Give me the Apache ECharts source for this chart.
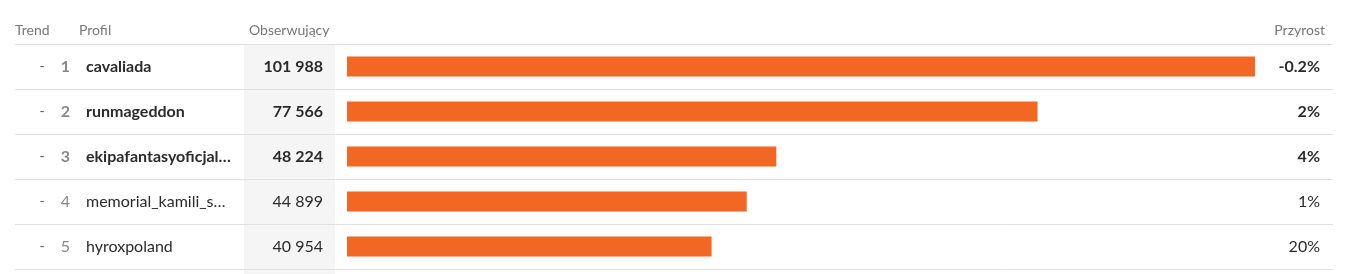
<!DOCTYPE html>
<html><head><meta charset="utf-8">
<script src="https://cdn.jsdelivr.net/npm/echarts@6/dist/echarts.min.js"></script>
<style>html,body{margin:0;padding:0;background:#fff}#c{width:1350px;height:274px}</style>
</head><body><div id="c"></div>
<script>
const trends = ['-', '-', '-', '-', '-'];
const ranks = ['1', '2', '3', '4', '5'];
const profiles = ['cavaliada', 'runmageddon', 'ekipafantasyoficjal…', 'memorial_kamili_s…', 'hyroxpoland'];
const followers = [101988, 77566, 48224, 44899, 40954];
const growth = ['-0.2%', '2%', '4%', '1%', '20%'];
const headers = ['Trend', 'Profil', 'Obserwujący', 'Przyrost'];
const boldRows = 3;

const FONT = 'Lato';
const FS = 16;
const fmt = v => String(v).replace(/\B(?=(\d{3})+(?!\d))/g, ' ');

function colAxis(data, opts) {
  return Object.assign({
    type: 'category', gridIndex: 0, inverse: true, data: data,
    axisLine: {show: false}, axisTick: {show: false}, splitLine: {show: false}
  }, opts);
}
function richLabel(color, fmtFn) {
  return {
    fontSize: FS, fontFamily: FONT,
    formatter: (v, i) => '{' + (i < boldRows ? 'b' : 'n') + '|' + (fmtFn ? fmtFn(v) : v) + '}',
    rich: {
      b: {color: color, fontWeight: 'bold', fontSize: FS, fontFamily: FONT},
      n: {color: color, fontSize: FS, fontFamily: FONT}
    }
  };
}

const chart = echarts.init(document.getElementById('c'));
chart.setOption({
  animation: false,
  textStyle: {fontFamily: FONT},
  grid: [
    {left: 15, right: 17, top: 44, height: 225},
    {left: 347, right: 95, top: 44, height: 225}
  ],
  xAxis: [
    {type: 'value', gridIndex: 0, show: false},
    {type: 'value', gridIndex: 1, show: false, min: 0, max: 'dataMax'}
  ],
  yAxis: [
    colAxis(profiles, {
      position: 'left',
      splitLine: {show: true, lineStyle: {color: '#e0e0e0', width: 1}},
      axisLabel: {show: false}
    }),
    colAxis(trends, {position: 'left', axisLabel: {inside: true, margin: 27, align: 'center', color: '#555', fontSize: 14, fontFamily: FONT}}),
    colAxis(ranks, {position: 'left', axisLabel: Object.assign({inside: true, margin: 55, align: 'right'}, richLabel('#888'))}),
    colAxis(profiles, {position: 'left', axisLabel: Object.assign({inside: true, margin: 71, align: 'left'}, richLabel('#2b2b2b'))}),
    colAxis(followers, {position: 'left', axisLabel: Object.assign({inside: true, margin: 308, align: 'right'}, richLabel('#2b2b2b', fmt))}),
    colAxis(growth, {position: 'right', axisLabel: Object.assign({inside: true, margin: 13, align: 'right'}, richLabel('#2b2b2b'))}),
    {type: 'category', gridIndex: 1, inverse: true, data: profiles, show: false}
  ],
  graphic: [
    {type: 'rect', z: -10, shape: {x: 244, y: 45, width: 91, height: 229}, style: {fill: '#f5f5f5'}},
    {type: 'text', x: 15, y: 30, style: {text: headers[0], fill: '#777', font: '14px Lato', textVerticalAlign: 'middle'}},
    {type: 'text', x: 79, y: 30, style: {text: headers[1], fill: '#777', font: '14px Lato', textVerticalAlign: 'middle'}},
    {type: 'text', x: 249, y: 30, style: {text: headers[2], fill: '#777', font: '14px Lato', textVerticalAlign: 'middle'}},
    {type: 'text', x: 1325, y: 30, style: {text: headers[3], fill: '#777', font: '14px Lato', textAlign: 'right', textVerticalAlign: 'middle'}}
  ],
  series: [{
    type: 'bar', xAxisIndex: 1, yAxisIndex: 6, data: followers, barWidth: 20,
    itemStyle: {color: '#f36724'}, silent: true
  }]
});
</script></body></html>
